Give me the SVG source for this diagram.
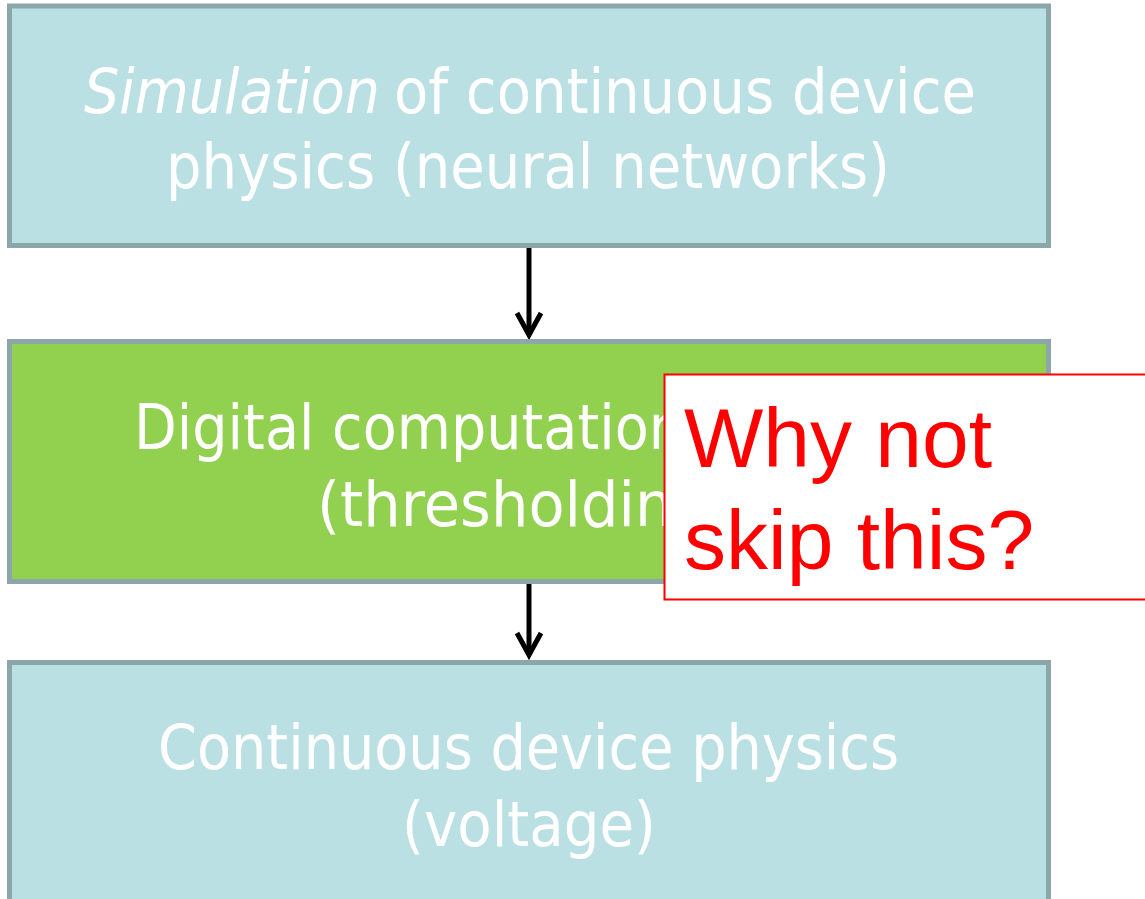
<svg xmlns="http://www.w3.org/2000/svg" width="1145" height="899" viewBox="0 0 1145 899">
  <style>
    .box { stroke: #8BA7A9; stroke-width: 5; }
    .blue { fill: #BBE0E3; }
    .green { fill: #92D050; }
    .lbl { font-family: "DejaVu Sans", Verdana, sans-serif; font-size: 63px; fill: #FFFFFF; }
    .it { font-style: italic; }
    .conn { stroke: #000000; stroke-width: 5; fill: none; }
    .note { font-family: "Liberation Sans", Arial, sans-serif; font-size: 84px; fill: #FF0000; }
  </style>
  <defs>
    <marker id="arrow" viewBox="-30 -18 36 36" refX="0" refY="0" markerWidth="36" markerHeight="36" markerUnits="userSpaceOnUse" orient="auto">
      <path d="M-22,-12 L0,0 L-22,12" fill="none" stroke="#000000" stroke-width="5"/>
    </marker>
  </defs>
  <rect width="1145" height="899" fill="#FFFFFF"/>

  <g id="connectors">
    <line class="conn" x1="529" y1="247" x2="529" y2="335" marker-end="url(#arrow)"/>
    <line class="conn" x1="529" y1="583" x2="529" y2="655" marker-end="url(#arrow)"/>
  </g>

  <g id="node-simulation">
    <rect class="box blue" x="9.5" y="6" width="1039" height="239.5"/>
    <text class="lbl it" x="84" y="113" textLength="296" lengthAdjust="spacingAndGlyphs">Simulation</text>
    <text class="lbl" x="394" y="113" textLength="582" lengthAdjust="spacingAndGlyphs">of continuous device</text>
    <text class="lbl" x="166" y="188" textLength="724" lengthAdjust="spacingAndGlyphs">physics (neural networks)</text>
  </g>

  <g id="node-digital">
    <rect class="box green" x="9.5" y="341.5" width="1039" height="240"/>
    <text class="lbl" x="134" y="449" textLength="550" lengthAdjust="spacingAndGlyphs">Digital computation</text>
    <text class="lbl" x="317" y="526" textLength="416" lengthAdjust="spacingAndGlyphs">(thresholding)</text>
  </g>

  <g id="node-continuous">
    <rect class="box blue" x="9.5" y="662.5" width="1039" height="250"/>
    <text class="lbl" x="158" y="769" textLength="741" lengthAdjust="spacingAndGlyphs">Continuous device physics</text>
    <text class="lbl" x="402" y="846" textLength="254" lengthAdjust="spacingAndGlyphs">(voltage)</text>
  </g>

  <g id="node-callout">
    <rect x="664.5" y="374.5" width="500" height="225" fill="#FFFFFF" stroke="#FF0000" stroke-width="2"/>
    <text class="note" x="684" y="467">Why not</text>
    <text class="note" x="684" y="569">skip this?</text>
  </g>
</svg>
